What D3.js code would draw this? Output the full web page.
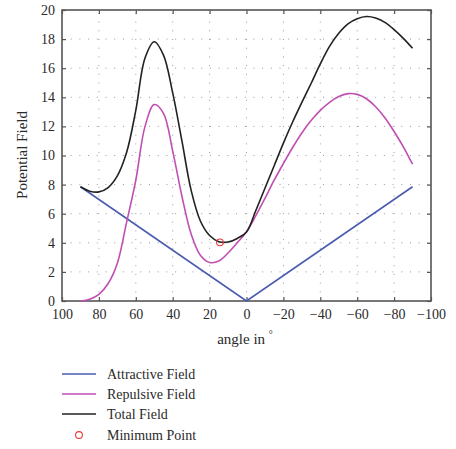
<!DOCTYPE html>
<html>
<head>
<meta charset="utf-8">
<script src="https://cdn.jsdelivr.net/npm/d3@7"></script>
<style>
  html, body { margin: 0; padding: 0; background: #fff; }
  svg text { font-family: "Liberation Serif", "DejaVu Serif", serif; fill: #2a2a2a; }
</style>
</head>
<body>
<svg id="chart" width="456" height="449"></svg>
<script>
// ---- data ----
const angles = [90,85,80,75,70,65,60,55,50,45,40,35,30,25,20,15,10,5,0,-5,-10,-15,-20,-25,-30,-35,-40,-45,-50,-55,-60,-65,-70,-75,-80,-85,-90];
const repulsive = [0.0,0.12,0.45,1.2,2.6,5.4,8.3,12.0,13.5,12.9,10.3,7.2,4.6,3.15,2.65,2.75,3.3,4.0,4.75,5.85,7.05,8.3,9.45,10.55,11.55,12.4,13.1,13.65,14.05,14.25,14.2,13.9,13.35,12.6,11.65,10.6,9.4];
const total = [7.85,7.55,7.5,7.8,8.6,10.2,13.1,16.7,17.82,16.9,14.3,11.0,7.6,5.5,4.5,4.08,4.05,4.3,4.75,6.2,7.75,9.3,10.85,12.3,13.65,14.95,16.3,17.5,18.4,19.05,19.4,19.55,19.45,19.15,18.65,18.05,17.37];
const attrAngles = [90,0,-90];
const attractive = [7.85,0,7.85];
const minPoint = {angle: 14.4, value: 4.03};
const xTicks = [100,80,60,40,20,0,-20,-40,-60,-80,-100];
const yTicks = [0,2,4,6,8,10,12,14,16,18,20];
const legendLabels = ["Attractive Field","Repulsive Field","Total Field","Minimum Point"];

// ---- layout ----
const svg = d3.select("#chart");
const L = 62, R = 431, T = 10, B = 301;
const x = d3.scaleLinear().domain([100,-100]).range([L,R]);
const y = d3.scaleLinear().domain([0,20]).range([B,T]);

const colors = {att:"#4a5bb0", rep:"#c04fb4", tot:"#222222", min:"#e83a3a"};

// grid
const grid = svg.append("g");
xTicks.slice(1,-1).forEach(t => {
  grid.append("line").attr("x1",x(t)).attr("x2",x(t)).attr("y1",B).attr("y2",T)
    .attr("stroke","#9a9a9a").attr("stroke-width",1).attr("stroke-dasharray","1,7.7");
});
yTicks.slice(1,-1).forEach(t => {
  grid.append("line").attr("x1",L).attr("x2",R).attr("y1",y(t)).attr("y2",y(t))
    .attr("stroke","#9a9a9a").attr("stroke-width",1).attr("stroke-dasharray","1,7.7");
});

// axes
const fmt = d => d < 0 ? "\u2212" + Math.abs(d) : String(d);
const xAxis = svg.append("g").attr("transform",`translate(0,${B})`)
  .call(d3.axisBottom(x).tickValues(xTicks).tickSize(-4).tickPadding(8).tickFormat(fmt));
const yAxis = svg.append("g").attr("transform",`translate(${L},0)`)
  .call(d3.axisLeft(y).tickValues(yTicks).tickSize(-4).tickPadding(7).tickFormat(fmt));
const xTop = svg.append("g").attr("transform",`translate(0,${T})`)
  .call(d3.axisTop(x).tickValues(xTicks).tickSize(-4).tickFormat(""));
const yRight = svg.append("g").attr("transform",`translate(${R},0)`)
  .call(d3.axisRight(y).tickValues(yTicks).tickSize(-4).tickFormat(""));
[xAxis,yAxis,xTop,yRight].forEach(g => {
  g.selectAll(".domain").remove();
  g.selectAll("line").attr("stroke","#555").attr("stroke-width",1.2);
  g.selectAll("text").attr("font-size",14).attr("fill","#2a2a2a")
    .style("font-family",'"Liberation Serif","DejaVu Serif",serif');
});
svg.append("rect").attr("x",L).attr("y",T).attr("width",R-L).attr("height",B-T)
  .attr("fill","none").attr("stroke","#555").attr("stroke-width",1.6);

// lines
const line = d3.line().x(d => x(d[0])).y(d => y(d[1])).curve(d3.curveCatmullRom.alpha(0.5));
const lineLin = d3.line().x(d => x(d[0])).y(d => y(d[1]));
svg.append("path").datum(attrAngles.map((a,i)=>[a,attractive[i]])).attr("d",lineLin)
  .attr("fill","none").attr("stroke",colors.att).attr("stroke-width",1.6);
svg.append("path").datum(angles.map((a,i)=>[a,repulsive[i]])).attr("d",line)
  .attr("fill","none").attr("stroke",colors.rep).attr("stroke-width",1.6);
svg.append("path").datum(angles.map((a,i)=>[a,total[i]])).attr("d",line)
  .attr("fill","none").attr("stroke",colors.tot).attr("stroke-width",1.6);
svg.append("circle").attr("cx",x(minPoint.angle)).attr("cy",y(minPoint.value)).attr("r",3.4)
  .attr("fill","none").attr("stroke",colors.min).attr("stroke-width",1.1);

// axis titles
svg.append("text").attr("transform","translate(27,155) rotate(-90)").attr("text-anchor","middle")
  .attr("font-size",15).text("Potential Field");
const xt = svg.append("text").attr("x",245).attr("y",344).attr("text-anchor","middle").attr("font-size",15);
xt.append("tspan").text("angle in ");
xt.append("tspan").attr("font-size",10).attr("dy",-6).text("\u00b0");

// legend
const legY = [374,394,414,435];
const legColors = [colors.att, colors.rep, colors.tot, colors.min];
legendLabels.forEach((lab,i) => {
  if (i < 3) {
    svg.append("line").attr("x1",62).attr("x2",96).attr("y1",legY[i]).attr("y2",legY[i])
      .attr("stroke",legColors[i]).attr("stroke-width",1.6);
  } else {
    svg.append("circle").attr("cx",79).attr("cy",legY[i]).attr("r",3.4)
      .attr("fill","none").attr("stroke",legColors[i]).attr("stroke-width",1.1);
  }
  svg.append("text").attr("x",107).attr("y",legY[i]+5).attr("font-size",14).text(lab);
});
</script>
</body>
</html>
